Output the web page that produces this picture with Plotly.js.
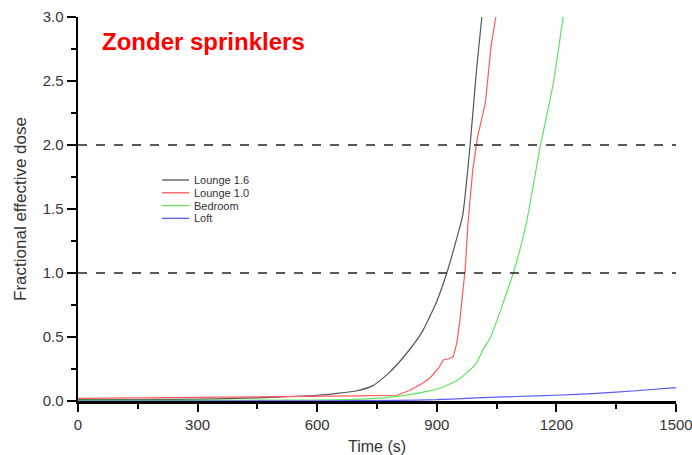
<!DOCTYPE html>
<html>
<head>
<meta charset="utf-8">
<script src="https://cdn.plot.ly/plotly-3.0.1.min.js"></script>
<style>html,body{margin:0;padding:0;background:#fff;}#chart{width:692px;height:455px;}</style>
</head>
<body>
<div id="chart"></div>
<script>
const seriesNames = ["Lounge 1.6", "Lounge 1.0", "Bedroom", "Loft"];

const lounge16Time = [0, 100, 200, 300, 400, 500, 600, 650, 700, 740, 780, 825, 865, 900, 925, 950, 965, 983, 1000, 1013];
const lounge16Dose = [0.01, 0.01, 0.012, 0.015, 0.02, 0.03, 0.045, 0.06, 0.08, 0.12, 0.22, 0.375, 0.55, 0.78, 1.0, 1.27, 1.45, 1.98, 2.6, 3.0];

const lounge10Time = [0, 100, 200, 300, 400, 500, 600, 700, 800, 830, 860, 883, 905, 916, 930, 941, 950, 958, 965, 971, 978, 990, 1002, 1022, 1036, 1048];
const lounge10Dose = [0.02, 0.022, 0.025, 0.028, 0.03, 0.033, 0.037, 0.04, 0.045, 0.08, 0.13, 0.18, 0.26, 0.32, 0.33, 0.345, 0.45, 0.63, 0.85, 1.02, 1.38, 1.8, 2.06, 2.33, 2.77, 3.0];

const bedroomTime = [0, 200, 400, 600, 700, 783, 850, 908, 950, 975, 1000, 1016, 1035, 1051, 1070, 1092, 1110, 1126, 1159, 1192, 1217];
const bedroomDose = [0.005, 0.005, 0.006, 0.008, 0.012, 0.03, 0.06, 0.1, 0.16, 0.22, 0.3, 0.4, 0.5, 0.63, 0.8, 1.0, 1.2, 1.41, 1.98, 2.48, 3.0];

const loftTime = [0, 300, 600, 800, 900, 1000, 1100, 1200, 1300, 1400, 1500];
const loftDose = [0, 0, 0.002, 0.005, 0.01, 0.025, 0.035, 0.045, 0.06, 0.08, 0.105];

const thresholds = [1.0, 2.0];

const seriesColors = ["#555555", "#ff5a5a", "#5ce65c", "#5a5aff"];
const seriesShapes = ["spline", "linear", "spline", "spline"];

const xs = [lounge16Time, lounge10Time, bedroomTime, loftTime];
const ys = [lounge16Dose, lounge10Dose, bedroomDose, loftDose];

const traces = seriesNames.map((n, i) => ({
  type: "scatter", mode: "lines", name: n,
  x: xs[i], y: ys[i],
  line: {color: seriesColors[i], width: 1.2, shape: seriesShapes[i], smoothing: 0.5}
}));

const font = "Arial, 'Liberation Sans', sans-serif";

// compact legend (line sample + label) built from the series names/colours
const legTop = 0.5755, legStep = 0.0333, legX0 = 0.1405, legX1 = 0.1856, legTx = 0.1906;
const legendShapes = seriesNames.map((n, i) => ({
  type: "line", xref: "paper", yref: "paper",
  x0: legX0, x1: legX1, y0: legTop - i * legStep, y1: legTop - i * legStep,
  line: {color: seriesColors[i], width: 1.3}
}));
const legendTexts = seriesNames.map((n, i) => ({
  text: n, xref: "paper", yref: "paper", x: legTx, y: legTop - i * legStep,
  xanchor: "left", yanchor: "middle", showarrow: false,
  font: {size: 11, color: "#333", family: font}
}));

const layout = {
  width: 692, height: 455,
  margin: {l: 78, r: 16, t: 17, b: 54},
  paper_bgcolor: "#fff", plot_bgcolor: "#fff",
  font: {family: font, color: "#333"},
  showlegend: false,
  xaxis: {
    range: [0, 1500], tickvals: [0, 300, 600, 900, 1200, 1500],
    showline: true, linecolor: "#000", linewidth: 2.5, mirror: false,
    ticks: "outside", ticklen: 8, tickwidth: 2, tickcolor: "#000",
    minor: {dtick: 150, ticks: "outside", ticklen: 5, tickwidth: 2, tickcolor: "#000", showgrid: false},
    showgrid: false, zeroline: false, ticklabeloverflow: "allow",
    tickfont: {size: 15, color: "#333"},
    title: {text: "Time (s)", font: {size: 16, color: "#333"}, standoff: 11}
  },
  yaxis: {
    range: [0, 3], tickvals: [0, 0.5, 1.0, 1.5, 2.0, 2.5, 3.0], tickformat: ".1f",
    showline: true, linecolor: "#000", linewidth: 2.5,
    ticks: "outside", ticklen: 9, tickwidth: 2, tickcolor: "#000",
    minor: {dtick: 0.25, ticks: "outside", ticklen: 5, tickwidth: 2, tickcolor: "#000", showgrid: false},
    showgrid: false, zeroline: false,
    tickfont: {size: 15, color: "#333"},
    title: {text: "Fractional effective dose", font: {size: 17, color: "#333"}, standoff: 12}
  },
  shapes: thresholds.map(v => ({
    type: "line", xref: "paper", x0: 0, x1: 1, yref: "y", y0: v, y1: v,
    line: {color: "#222", width: 1.5, dash: "dash"}
  })).concat(legendShapes),
  annotations: [{
    text: "<b>Zonder sprinklers</b>", xref: "paper", yref: "paper",
    x: 0.037, y: 0.935, xanchor: "left", yanchor: "middle", showarrow: false,
    font: {size: 24, color: "#ff0000", family: font}
  }].concat(legendTexts)
};

Plotly.newPlot("chart", traces, layout, {displayModeBar: false, staticPlot: true});
</script>
</body>
</html>
